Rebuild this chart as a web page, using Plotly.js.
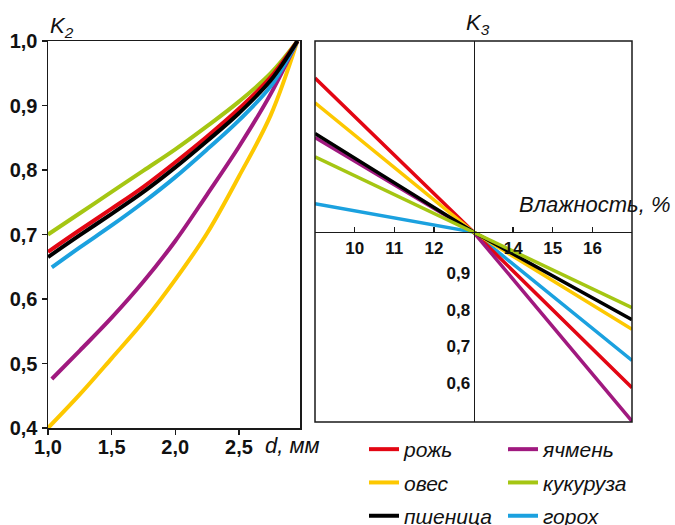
<!DOCTYPE html>
<html>
<head>
<meta charset="utf-8">
<script src="https://cdn.plot.ly/plotly-3.0.1.min.js"></script>
<style>html,body{margin:0;padding:0;background:#fff}#chart{width:675px;height:525px}</style>
</head>
<body>
<div id="chart"></div>
<script>
// ---- data ----
const names = ['рожь', 'овес', 'пшеница', 'ячмень', 'кукуруза', 'горох'];
const colors = ['#e30613', '#fdc800', '#000000', '#a0197f', '#a5c613', '#1ba1df'];

// Left panel: K2 vs d, mm
const dFull = [1.0, 1.25, 1.5, 1.75, 2.0, 2.25, 2.5, 2.75, 2.96];
const dLate = [1.03, 1.25, 1.5, 1.75, 2.0, 2.25, 2.5, 2.75, 2.96];
const k2Rye    = [0.673, 0.707, 0.740, 0.774, 0.812, 0.852, 0.895, 0.944, 1.0];
const k2Oats   = [0.400, 0.452, 0.508, 0.565, 0.630, 0.702, 0.790, 0.885, 1.0];
const k2Wheat  = [0.665, 0.699, 0.732, 0.766, 0.804, 0.845, 0.888, 0.939, 1.0];
const k2Barley = [0.476, 0.520, 0.571, 0.627, 0.690, 0.762, 0.836, 0.918, 1.0];
const k2Corn   = [0.700, 0.733, 0.766, 0.799, 0.832, 0.868, 0.906, 0.950, 1.0];
const k2Peas   = [0.649, 0.680, 0.714, 0.750, 0.789, 0.832, 0.877, 0.930, 1.0];

// Right panel: K3 vs moisture, %
const moisture = [9, 13, 17];
const k3Rye    = [1.423, 1.0, 0.572];
const k3Oats   = [1.355, 1.0, 0.733];
const k3Wheat  = [1.271, 1.0, 0.759];
const k3Barley = [1.260, 1.0, 0.480];
const k3Corn   = [1.207, 1.0, 0.792];
const k3Peas   = [1.078, 1.0, 0.647];

const dTicks = [1.0, 1.5, 2.0, 2.5];
const dTickText = ['1,0', '1,5', '2,0', '2,5'];
const k2Ticks = [0.4, 0.5, 0.6, 0.7, 0.8, 0.9, 1.0];
const k2TickText = ['0,4', '0,5', '0,6', '0,7', '0,8', '0,9', '1,0'];
const mTicks = [10, 11, 12, 14, 15, 16];
const mTickText = ['10', '11', '12', '14', '15', '16'];
const k3LowTicks = [0.6, 0.7, 0.8, 0.9];
const k3LowText = ['0,6', '0,7', '0,8', '0,9'];
const k3HighTicks = [1.1, 1.2, 1.3, 1.4];
const k3HighText = ['1,2', '1,2', '1,3', '1,4'];

// ---- build ----
const leftX = [dFull, dFull, dFull, dLate, dFull, dLate];
const leftY = [k2Rye, k2Oats, k2Wheat, k2Barley, k2Corn, k2Peas];
const rightY = [k3Rye, k3Oats, k3Wheat, k3Barley, k3Corn, k3Peas];
const drawOrder = [1, 3, 5, 4, 0, 2];      // z-order, left panel
const drawOrderR = [5, 0, 1, 3, 2, 4];     // z-order, right panel

const traces = [];
drawOrder.forEach(i => {
  traces.push({
    type: 'scatter', mode: 'lines', x: leftX[i], y: leftY[i],
    xaxis: 'x', yaxis: 'y', name: names[i],
    line: {color: colors[i], width: 4, shape: 'spline', smoothing: 1},
    legend: i < 3 ? 'legend' : 'legend2', legendgroup: names[i], legendrank: i, hoverinfo: 'skip'
  });
});
drawOrderR.forEach(i => {
  traces.push({
    type: 'scatter', mode: 'lines', x: moisture, y: rightY[i],
    xaxis: 'x2', yaxis: 'y2', name: names[i], showlegend: false,
    line: {color: colors[i], width: 3.5}, hoverinfo: 'skip'
  });
});

const W = 675, H = 525;
const L = {x0: 48 / W, x1: 300 / W, y0: (H - 428) / H, y1: (H - 41) / H};
const R = {x0: 315 / W, x1: 632 / W, y0: (H - 422) / H, y1: (H - 41) / H};
const k3Range = [0.478, 1.525];
const mRange = [9, 17];
const xCross = R.x0 + (13 - mRange[0]) / (mRange[1] - mRange[0]) * (R.x1 - R.x0);
const yCross = R.y0 + (1.0 - k3Range[0]) / (k3Range[1] - k3Range[0]) * (R.y1 - R.y0);

const ax = '#1a1a1a';
const tickFont = {family: 'Liberation Sans, Arial, sans-serif', size: 20, color: '#111', weight: 'bold'};
const tickFontR = {family: 'Liberation Sans, Arial, sans-serif', size: 17, color: '#111', weight: 'bold'};
const italic = {family: 'Liberation Sans, Arial, sans-serif', size: 22, color: '#111', style: 'italic'};
const legFont = {family: 'Liberation Sans, Arial, sans-serif', size: 21, color: '#111', style: 'italic'};

const layout = {
  width: W, height: H,
  margin: {l: 0, r: 0, t: 0, b: 0, autoexpand: false},
  paper_bgcolor: '#fff', plot_bgcolor: '#fff',
  showlegend: true,
  xaxis: {
    domain: [L.x0, L.x1], range: [1.0, 2.98], anchor: 'y',
    tickvals: dTicks, ticktext: dTickText, tickfont: tickFont, ticklabelstandoff: -5,
    ticks: 'outside', ticklen: 5, tickwidth: 1.5, tickcolor: ax,
    showline: true, linecolor: ax, linewidth: 1.5, mirror: true,
    showgrid: false, zeroline: false, automargin: false
  },
  yaxis: {
    domain: [L.y0, L.y1], range: [0.4, 1.0], anchor: 'x',
    tickvals: k2Ticks, ticktext: k2TickText, tickfont: tickFont,
    ticks: 'outside', ticklen: 5, tickwidth: 1.5, tickcolor: ax,
    showline: true, linecolor: ax, linewidth: 1.5, mirror: true,
    showgrid: false, zeroline: false, automargin: false
  },
  xaxis2: {
    domain: [R.x0, R.x1], range: mRange, anchor: 'free', position: yCross,
    tickvals: mTicks, ticktext: mTickText, tickfont: tickFontR,
    ticks: 'inside', ticklen: 5, tickwidth: 1.3, tickcolor: ax,
    showline: true, linecolor: ax, linewidth: 1.3,
    showgrid: false, zeroline: false, automargin: false
  },
  yaxis2: {
    domain: [R.y0, R.y1], range: k3Range, anchor: 'free', position: xCross, side: 'left',
    tickvals: k3LowTicks, ticktext: k3LowText, tickfont: tickFontR, ticks: '',
    ticklabelshift: 5,
    showline: true, linecolor: ax, linewidth: 1.3,
    showgrid: false, zeroline: false, automargin: false
  },
  yaxis3: {
    overlaying: 'y2', range: k3Range, anchor: 'free', position: xCross, side: 'right',
    tickvals: k3HighTicks, ticktext: k3HighText, tickfont: tickFontR, ticks: '',
    ticklabelstandoff: 6,
    showline: false, showgrid: false, zeroline: false, automargin: false
  },
  shapes: [{
    type: 'rect', xref: 'x2 domain', yref: 'y2 domain', x0: 0, x1: 1, y0: 0, y1: 1,
    line: {color: ax, width: 1.5}, fillcolor: 'rgba(0,0,0,0)'
  }],
  annotations: [
    {text: 'K<sub>2</sub>', xref: 'paper', yref: 'paper', x: 48 / W, y: (H - 27) / H,
     xanchor: 'left', yanchor: 'middle', showarrow: false, font: italic},
    {text: 'K<sub>3</sub>', xref: 'paper', yref: 'paper', x: 464 / W, y: (H - 24) / H,
     xanchor: 'left', yanchor: 'middle', showarrow: false, font: italic},
    {text: 'd, мм', xref: 'paper', yref: 'paper', x: 263 / W, y: (H - 445) / H,
     xanchor: 'left', yanchor: 'middle', showarrow: false, font: italic},
    {text: 'Влажность, %', xref: 'paper', yref: 'paper', x: 517 / W, y: (H - 205) / H,
     xanchor: 'left', yanchor: 'middle', showarrow: false, font: italic}
  ],
  legend: {x: 364 / W, y: (H - 429) / H, xanchor: 'left', yanchor: 'top',
    font: legFont, bgcolor: 'rgba(0,0,0,0)', traceorder: 'grouped', tracegroupgap: 3},
  legend2: {x: 503 / W, y: (H - 429) / H, xanchor: 'left', yanchor: 'top',
    font: legFont, bgcolor: 'rgba(0,0,0,0)', traceorder: 'grouped', tracegroupgap: 3}
};

Plotly.newPlot('chart', traces, layout, {staticPlot: true, displayModeBar: false});
</script>
</body>
</html>
